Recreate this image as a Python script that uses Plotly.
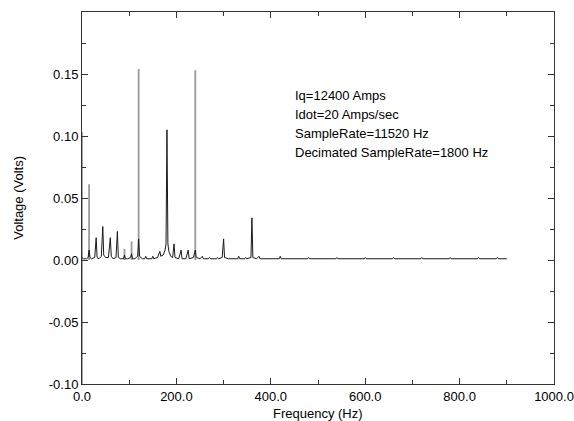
import plotly.graph_objects as go

# Black spectrum trace (frequency in Hz, voltage in volts)
spec_freq = [0, 3, 10, 13, 15, 17, 20, 27, 30, 32, 36, 41, 44, 46, 50, 56, 60, 62, 66, 72, 75, 77,
             82, 88, 90, 92, 97, 103, 105, 107, 112, 118, 120, 122, 128, 133, 135, 137, 148, 150,
             152, 160, 165, 167, 172, 176, 178, 180, 182, 184, 188, 192, 195, 197, 205, 210, 212,
             220, 225, 227, 236, 240, 242, 250, 255, 257, 268, 270, 272, 285, 287, 289, 297, 300,
             302, 310, 330, 332, 334, 345, 347, 349, 358, 360, 362, 370, 375, 377, 418, 420, 422,
             478, 480, 482, 538, 540, 542, 598, 600, 602, 658, 660, 662, 718, 720, 722, 778, 780,
             782, 838, 840, 842, 878, 880, 882, 900]
spec_volt = [0.002, 0.001, 0.001, 0.002, 0.008, 0.002, 0.001, 0.002, 0.018, 0.002, 0.001, 0.003,
             0.027, 0.004, 0.002, 0.002, 0.018, 0.003, 0.001, 0.002, 0.023, 0.002, 0.001, 0.001,
             0.004, 0.001, 0.001, 0.002, 0.005, 0.001, 0.001, 0.003, 0.017, 0.003, 0.001, 0.001,
             0.003, 0.001, 0.001, 0.003, 0.001, 0.002, 0.007, 0.003, 0.004, 0.008, 0.013, 0.105,
             0.013, 0.007, 0.003, 0.002, 0.013, 0.002, 0.001, 0.008, 0.001, 0.001, 0.008, 0.001,
             0.002, 0.008, 0.002, 0.001, 0.003, 0.001, 0.001, 0.002, 0.001, 0.001, 0.002, 0.001,
             0.002, 0.017, 0.002, 0.001, 0.001, 0.003, 0.001, 0.001, 0.002, 0.001, 0.002, 0.034,
             0.002, 0.001, 0.003, 0.001, 0.001, 0.003, 0.001, 0.001, 0.002, 0.001, 0.001, 0.002,
             0.001, 0.001, 0.002, 0.001, 0.001, 0.002, 0.001, 0.001, 0.002, 0.001, 0.001, 0.002,
             0.001, 0.001, 0.002, 0.001, 0.001, 0.002, 0.001, 0.001]

# Grey spike trace
spike_freq = [0, 15, 90, 105, 120, 240]
spike_top = [0.103, 0.061, 0.009, 0.015, 0.154, 0.153]
spike_base = [-0.1, 0.0, 0.0, 0.0, 0.0, 0.0]

x_ticks = [0, 200, 400, 600, 800, 1000]
x_minor = [100, 300, 500, 700, 900]
y_ticks = [-0.10, -0.05, 0.00, 0.05, 0.10, 0.15]
y_minor = [-0.075, -0.025, 0.025, 0.075, 0.125, 0.175, 0.2]

info_lines = ["Iq=12400 Amps", "Idot=20 Amps/sec", "SampleRate=11520 Hz",
              "Decimated SampleRate=1800 Hz"]

sx, sy = [], []
for f, t, b in zip(spike_freq, spike_top, spike_base):
    sx += [f, f, None]
    sy += [b, t, None]

fig = go.Figure()
fig.add_trace(go.Scatter(x=sx, y=sy, mode="lines",
                         line=dict(color="#9a9a9a", width=1.8), hoverinfo="skip"))
fig.add_trace(go.Scatter(x=spec_freq, y=spec_volt, mode="lines",
                         line=dict(color="#1a1a1a", width=1), hoverinfo="skip"))

font = "Liberation Sans, Arial, Helvetica, sans-serif"
axis_common = dict(showline=True, linecolor="#333", linewidth=1, mirror="ticks",
                   ticks="inside", ticklen=6, tickcolor="#333", showgrid=False,
                   zeroline=False, automargin=False,
                   tickfont=dict(family=font, size=13, color="black"))

fig.update_xaxes(range=[0, 1000], tickvals=x_ticks,
                 ticktext=[f"{v:.1f}" for v in x_ticks],
                 minor=dict(tickvals=x_minor, ticks="inside", ticklen=4, tickcolor="#333"),
                 **axis_common)
fig.update_yaxes(range=[-0.1, 0.2], tickvals=y_ticks,
                 ticktext=[f"{v:.2f}" for v in y_ticks],
                 minor=dict(tickvals=y_minor, ticks="inside", ticklen=4, tickcolor="#333"),
                 **axis_common)

for i, line in enumerate(info_lines):
    fig.add_annotation(x=447, y=0.1323, xref="x", yref="y", xanchor="left", yanchor="middle",
                       yshift=-18.7 * i, text=line, showarrow=False, align="left",
                       font=dict(family=font, size=13, color="black"))
fig.add_annotation(x=0.5, y=-0.078, xref="paper", yref="paper", xanchor="center",
                   yanchor="middle", text="Frequency (Hz)", showarrow=False,
                   font=dict(family=font, size=13, color="black"))
fig.add_annotation(x=-0.136, y=0.5, xref="paper", yref="paper", xanchor="center",
                   yanchor="middle", text="Voltage (Volts)", showarrow=False, textangle=-90,
                   font=dict(family=font, size=13, color="black"))

fig.update_layout(width=574, height=421, autosize=False,
                  margin=dict(l=82, r=20, t=12, b=37, autoexpand=False),
                  plot_bgcolor="white", paper_bgcolor="white", showlegend=False,
                  hovermode=False,
                  font=dict(family=font, size=13, color="black"))

post = ("document.documentElement.style.margin='0';document.body.style.margin='0';"
        "document.body.style.overflow='hidden';")

fig.write_html("out.html",
               config={"displayModeBar": False, "responsive": False},
               post_script=post)
